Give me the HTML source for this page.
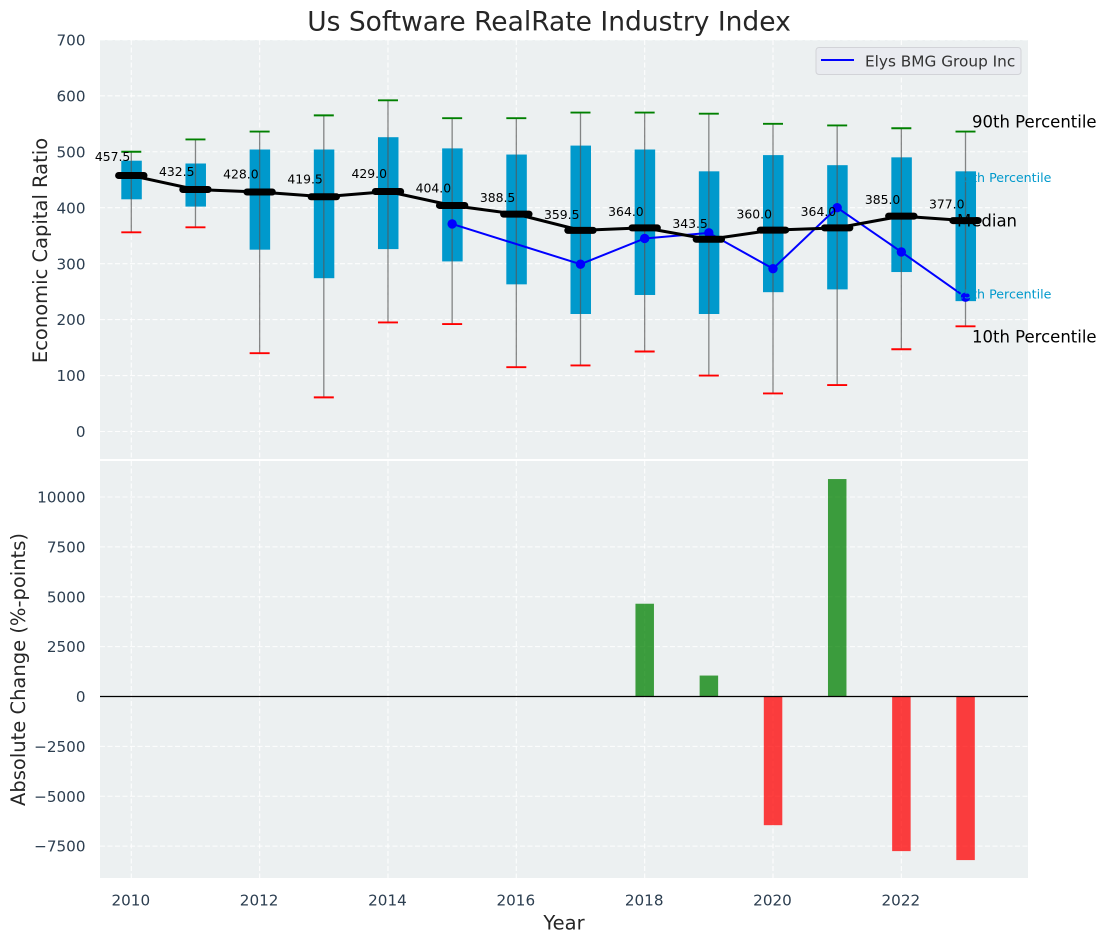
<!DOCTYPE html>
<html>
<head>
<meta charset="utf-8">
<title>Us Software RealRate Industry Index</title>
<style>
html,body{margin:0;padding:0;background:#fff;width:1107px;height:942px;overflow:hidden}
svg{display:block;font-family:"DejaVu Sans","Liberation Sans",sans-serif}
</style>
</head>
<body>
<svg id="chart" width="1107" height="942" viewBox="0 0 1107 942" xmlns="http://www.w3.org/2000/svg"></svg>
<script>
const years = [2010,2011,2012,2013,2014,2015,2016,2017,2018,2019,2020,2021,2022,2023];
const p90 = [500,522,536,565,592,560,560,570,570,568,550,547,542,536];
const q3 = [484,479,504,504,526,506,495,511,504,465,494,476,490,465];
const medians = [457.5,432.5,428,419.5,429,404,388.5,359.5,364,343.5,360,364,385,377];
const q1 = [415,402,325,274,326,304,263,210,244,210,249,254,285,233];
const p10 = [356,365,140,61,195,192,115,118,143,100,68,83,147,188];
const company = [null,null,null,null,null,371,null,299,345,355,291,400,321,240];
const changes = [null,null,null,null,null,null,null,null,4650,1050,-6450,10900,-7750,-8200];
const xTicks = [2010,2012,2014,2016,2018,2020,2022];
const topTicks = [0,100,200,300,400,500,600,700];
const bottomTicks = [-7500,-5000,-2500,0,2500,5000,7500,10000];

const NS = 'http://www.w3.org/2000/svg';
const svg = document.getElementById('chart');
const xS = v => 131.3 + (v - 2010) * 64.17;
const yT = v => 431.5 - v * 0.5595;
const yB = v => 696.5 - v * 0.01995;
const L = 100, R = 1028, T1 = 40, B1 = 459, T2 = 461, B2 = 878;

function mk(tag, attrs, text) {
  const el = document.createElementNS(NS, tag);
  for (const k in attrs) el.setAttribute(k, attrs[k]);
  if (text !== undefined) el.textContent = text;
  svg.appendChild(el);
  return el;
}
let el;

el = mk('rect', {x:L, y:T1, width:R-L, height:B1-T1, fill:'#ecf0f1'});


el = mk('rect', {x:L, y:T2, width:R-L, height:B2-T2, fill:'#ecf0f1'});



const grid = {stroke:'#ffffff', 'stroke-width':1.1, 'stroke-dasharray':'5 2.5', opacity:0.9};
xTicks.forEach(t => {
  el = mk('line', {x1:xS(t), x2:xS(t), y1:T1, y2:B1, ...grid});
  
  
  el = mk('line', {x1:xS(t), x2:xS(t), y1:T2, y2:B2, ...grid});
  
  
  el = mk('text', {x:xS(t)-0.5, y:905.5, 'text-anchor':'middle', 'font-size':15.2, fill:'#2c3e50'}, String(t));
  
  
});
topTicks.forEach(t => {
  el = mk('line', {x1:L, x2:R, y1:yT(t), y2:yT(t), ...grid});
  
  
  el = mk('text', {x:85.5, y:yT(t)+5.6, 'text-anchor':'end', 'font-size':15.2, fill:'#2c3e50'}, String(t));
  
  
});
bottomTicks.forEach(t => {
  el = mk('line', {x1:L, x2:R, y1:yB(t), y2:yB(t), ...grid});
  
  
  el = mk('text', {x:85.5, y:yB(t)+5.6, 'text-anchor':'end', 'font-size':15.2, fill:'#2c3e50'}, String(t).replace('-', '\u2212'));
  
  
});

years.forEach((y, i) => {
  const x = xS(y);
  el = mk('rect', {x:x-10, y:yT(q3[i]), width:20.5, height:yT(q1[i])-yT(q3[i]), fill:'#0099cc'});
  
  
});
years.forEach((y, i) => {
  const x = xS(y);
  el = mk('line', {x1:x, x2:x, y1:yT(p90[i]), y2:yT(p10[i]), stroke:'#555555', 'stroke-opacity':0.7, 'stroke-width':1.3});
  
  
  el = mk('line', {x1:x-10, x2:x+10, y1:yT(p90[i]), y2:yT(p90[i]), stroke:'#008000', 'stroke-width':1.9});
  
  
  el = mk('line', {x1:x-10, x2:x+10, y1:yT(p10[i]), y2:yT(p10[i]), stroke:'#ff0000', 'stroke-width':1.9});
  
  
});

const companyPts = years.map((y, i) => company[i] === null ? null : [xS(y), yT(company[i])]).filter(p => p);
el = mk('polyline', {points:companyPts.map(p => p.join(',')).join(' '), fill:'none', stroke:'#0000ff', 'stroke-width':2});


companyPts.forEach(p => {
  el = mk('circle', {cx:p[0], cy:p[1], r:4.7, fill:'#0000ff'});
  
  
});

el = mk('polyline', {points:years.map((y, i) => xS(y)+','+yT(medians[i])).join(' '), fill:'none', stroke:'#000000', 'stroke-width':3});


years.forEach((y, i) => {
  const x = xS(y);
  el = mk('line', {x1:x-12.7, x2:x+12.7, y1:yT(medians[i]), y2:yT(medians[i]), stroke:'#000000', 'stroke-width':7, 'stroke-linecap':'round'});
  
  
  el = mk('text', {x:x-1, y:yT(medians[i]*1.05)-1.5, 'text-anchor':'end', 'font-size':12.4, fill:'#000000'}, medians[i].toFixed(1));
  
  
});

const lastI = years.length - 1;
const lastX = xS(years[lastI]);
el = mk('text', {x:lastX+6.5, y:yT(p90[lastI])-4.3, 'font-size':16.5, fill:'#000000'}, '90th Percentile');


el = mk('text', {x:lastX-8.5, y:yT(medians[lastI])+6, 'font-size':16.5, fill:'#000000'}, 'Median');


el = mk('text', {x:lastX+6.5, y:yT(p10[lastI])+16, 'font-size':16.5, fill:'#000000'}, '10th Percentile');


el = mk('text', {x:lastX-9.5, y:yT(q3[lastI])+10.7, 'font-size':12.65, fill:'#0099cc'}, '75th Percentile');


el = mk('text', {x:lastX-9.5, y:yT(q1[lastI])-2.7, 'font-size':12.65, fill:'#0099cc'}, '25th Percentile');



years.forEach((y, i) => {
  const v = changes[i];
  if (v === null) return;
  el = mk('rect', {x:xS(y)-9.2, y:Math.min(yB(v), yB(0)), width:18.5, height:Math.abs(yB(v)-yB(0)), fill:v >= 0 ? '#008000' : '#ff0000', 'fill-opacity':0.75});
  
  
});
el = mk('line', {x1:L, x2:R, y1:yB(0), y2:yB(0), stroke:'#000000', 'stroke-width':1.3});



el = mk('rect', {x:816, y:47.5, width:205, height:27, rx:3, fill:'#e9ebf0', stroke:'#d2d3d8', 'stroke-width':1});


el = mk('line', {x1:821, x2:854, y1:60, y2:60, stroke:'#0000ff', 'stroke-width':2});


el = mk('text', {x:865, y:66.5, 'font-size':15.3, fill:'#333333'}, 'Elys BMG Group Inc');



el = mk('text', {x:549, y:30.5, 'text-anchor':'middle', 'font-size':26.5, fill:'#262626'}, 'Us Software RealRate Industry Index');


el = mk('text', {x:564, y:929.5, 'text-anchor':'middle', 'font-size':19.5, fill:'#262626'}, 'Year');


el = mk('text', {x:0, y:0, 'text-anchor':'middle', 'font-size':19.5, fill:'#262626', transform:'translate(47,250.5) rotate(-90)'}, 'Economic Capital Ratio');


el = mk('text', {x:0, y:0, 'text-anchor':'middle', 'font-size':19.5, fill:'#262626', transform:'translate(25,669.5) rotate(-90)'}, 'Absolute Change (%-points)');


</script>
</body>
</html>
